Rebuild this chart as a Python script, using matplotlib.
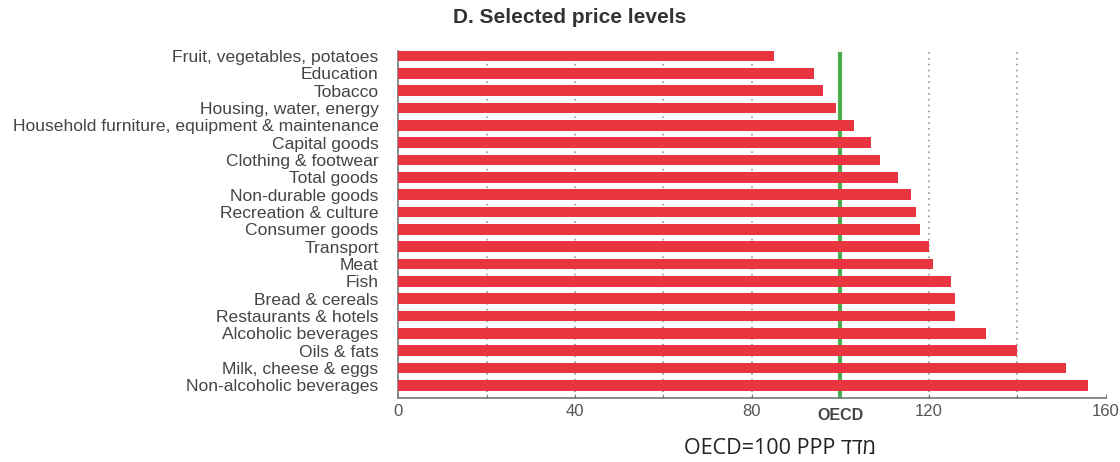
import matplotlib
matplotlib.use("Agg")
import matplotlib.pyplot as plt

# price level index, OECD = 100
categories = [
    "Fruit, vegetables, potatoes", "Education", "Tobacco", "Housing, water, energy",
    "Household furniture, equipment & maintenance", "Capital goods", "Clothing & footwear",
    "Total goods", "Non-durable goods", "Recreation & culture", "Consumer goods",
    "Transport", "Meat", "Fish", "Bread & cereals", "Restaurants & hotels",
    "Alcoholic beverages", "Oils & fats", "Milk, cheese & eggs", "Non-alcoholic beverages",
]
values = [85, 94, 96, 99, 103, 107, 109, 113, 116, 117, 118,
          120, 121, 125, 126, 126, 133, 140, 151, 156]
tick_values = [0, 40, 80, 100, 120, 160]
tick_labels = ["0", "40", "80", "OECD", "120", "160"]
oecd_level = 100

plt.rcParams["font.family"] = ["Liberation Sans", "DejaVu Sans"]

fig = plt.figure(figsize=(11.2, 4.62), dpi=100)
ax = fig.add_axes([0.3554, 0.1385, 0.632, 0.7511])

ypos = list(range(len(categories)))
ax.barh(ypos, values, height=0.62, color="#e8353f", zorder=3)

# dotted grid behind bars
for gx in [20, 40, 60, 80, 120, 140]:
    ax.axvline(gx, color="#9a9a9a", lw=1.2, ls=(0, (1, 2.5)), zorder=1)
ax.axvline(oecd_level, ymax=0.991, color="#4cae4c", lw=3, zorder=2)

ax.set_xlim(0, 160)
ax.set_ylim(len(categories) - 1 + 0.735, -0.29)
ax.set_yticks(ypos)
ax.set_yticklabels(categories, fontsize=12.6, color="#444444")
ax.tick_params(axis="y", length=0, pad=14)

ax.set_xticks(tick_values)
ax.set_xticklabels(tick_labels, fontsize=12, color="#555555")
ax.set_xticks([20, 60, 140], minor=True)
ax.tick_params(axis="x", which="both", direction="in", length=3, color="#777777", pad=4)
for lab in ax.get_xticklabels():
    if lab.get_text() == "OECD":
        lab.set_fontweight("bold")
        lab.set_fontsize(11.5)
        lab.set_color("#444444")
        lab.set_y(-0.012)

for s in ["top", "right"]:
    ax.spines[s].set_visible(False)
ax.spines["left"].set_color("#777777")
ax.spines["bottom"].set_color("#777777")
ax.spines["left"].set_linewidth(1.2)
ax.spines["bottom"].set_linewidth(1.2)

fig.text(0.509, 0.962, "D. Selected price levels", fontsize=15, fontweight="bold",
         color="#333333", ha="center", va="center")

heb = "מדד"[::-1]  # matplotlib draws left to right, so reverse the hebrew word
fig.text(0.696, 1 - 449 / 462, "OECD=100 PPP " + heb, fontsize=15.5,
         family=["Open Sans", "DejaVu Sans"], color="#222222", ha="center", va="center")

fig.savefig("out.png", dpi=100)
